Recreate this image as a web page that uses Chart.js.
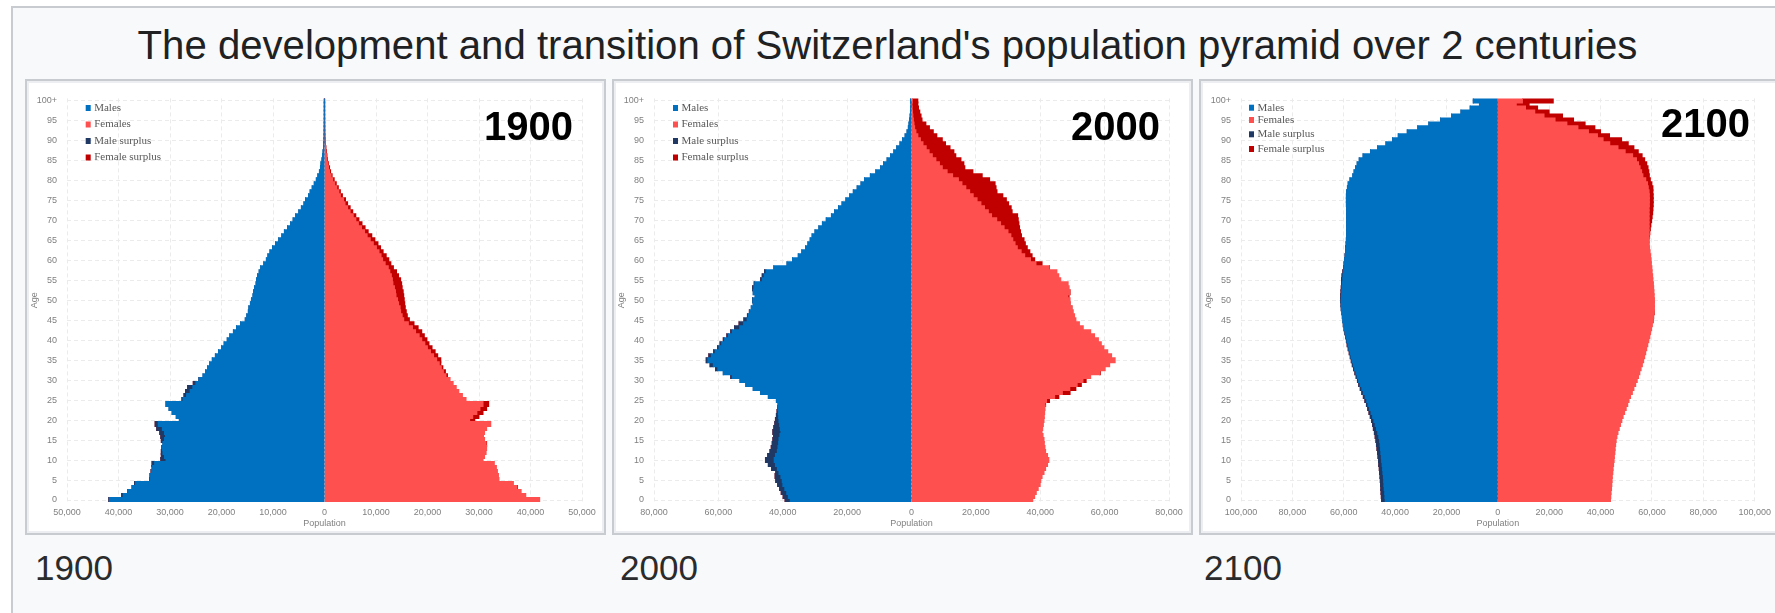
<!DOCTYPE html>
<html><head><meta charset="utf-8">
<script src="https://cdn.jsdelivr.net/npm/chart.js@4.4.1/dist/chart.umd.min.js"></script>
<style>
html,body{margin:0;padding:0;background:#fff;width:1775px;height:613px;overflow:hidden;font-family:'Liberation Sans',Arial,sans-serif;}
#outer{position:absolute;left:11px;top:6px;width:1800px;height:700px;border-left:2px solid #c8ccd1;border-top:2px solid #c8ccd1;background:#f8f9fa;}
#title{position:absolute;left:0;width:1775px;text-align:center;color:#202122;white-space:nowrap;line-height:1;font-family:'Liberation Sans',Arial,sans-serif;}
.panel{position:absolute;top:79px;width:581px;height:456px;box-sizing:border-box;border:2px solid #c8ccd1;background:#eceef1;}
.panel canvas{position:absolute;left:2px;top:2px;background:#fff;filter:blur(0.5px);}
.cap{position:absolute;font-size:35px;line-height:1;color:#2a2b2c;top:550px;}
</style></head>
<body>
<div id="outer"></div>
<div id="title"></div>
<div class="panel" style="left:25px"><canvas id="c1900" width="573" height="448"></canvas></div>
<div class="panel" style="left:612px"><canvas id="c2000" width="573" height="448"></canvas></div>
<div class="panel" style="left:1199px"><canvas id="c2100" width="573" height="448"></canvas></div>
<div class="cap" style="left:35px">1900</div>
<div class="cap" style="left:620px">2000</div>
<div class="cap" style="left:1204px">2100</div>
<script>
const TITLE = "The development and transition of Switzerland's population pyramid over 2 centuries";
const seriesNames = ['Males', 'Females', 'Male surplus', 'Female surplus'];
const yTickLabels = ['0','5','10','15','20','25','30','35','40','45','50','55','60','65','70','75','80','85','90','95','100+'];
const ageLabels = [];
for (let a = 0; a <= 100; a++) ageLabels.push(a === 100 ? '100+' : String(a));

// Population by single year of age (index 0 = age 0 ... index 100 = 100+)
const males1900 = [
 41900,39400,38200,37400,36900,34000,33900,33700,33500,33500,
 31800,31700,31700,31600,31400,31700,31800,32000,32600,32900,
 28200,28800,29600,30200,30800,27700,27300,27000,26600,25500,
 24400,23600,23100,22700,22300,21800,21200,20600,20000,19500,
 18900,18400,17700,17100,16300,15400,15100,14800,14700,14400,
 14200,13900,13800,13600,13300,13200,13000,12700,12400,11800,
 11300,11000,10600,10100,9500,8900,8300,7800,7200,6600,
 6100,5600,5000,4500,4000,3700,3100,2800,2400,2000,
 1600,1300,1000,800,700,500,400,300,200,150,
 100,80,60,50,40,30,20,15,10,8,
 5];
const females1900 = [
 41800,39100,38200,37500,36700,33900,33800,33600,33400,33000,
 30800,31100,31400,31500,31500,31100,30900,31100,31500,32300,
 29200,30000,30800,31500,31900,27500,26800,26100,25600,25000,
 24400,23900,23500,23000,22600,22600,22000,21500,20900,20300,
 19900,19400,18900,18200,17400,16500,16100,15900,15700,15600,
 15500,15400,15300,15100,15000,14800,14400,14000,13400,12900,
 12500,12000,11400,10900,10400,9800,9200,8500,7900,7300,
 6700,6100,5500,5000,4500,4100,3500,3100,2700,2300,
 1900,1500,1200,1000,800,600,500,400,300,200,
 150,110,80,60,50,40,30,20,15,10,
 8];
const males2000 = [
 39300,39900,40500,41000,41600,42200,42400,42200,43500,44500,
 45400,44700,44000,43600,43300,43100,42900,43100,42800,42500,
 42300,42000,41800,41600,41500,42000,44500,46900,49200,51500,
 53300,56200,58500,60900,62600,63800,63000,61500,60300,59500,
 58500,57400,56200,55000,53600,52100,51000,50400,49800,49200,
 49400,48600,49200,49400,48900,46900,46400,45700,42800,38700,
 37000,35200,34100,32900,32200,31500,30900,30000,28800,27700,
 26500,24900,23900,22700,21600,20400,19200,18100,16900,15700,
 14600,12800,11100,9600,8700,7600,6500,5500,4600,3600,
 2800,2000,1400,1000,800,600,450,350,250,180,
 300];
const females2000 = [
 37700,38300,38800,39400,40000,40200,40600,41200,41700,42300,
 42700,42300,41700,41500,41300,41200,40900,40600,40800,41000,
 41200,41300,41400,41500,41700,42900,45800,49300,51100,52800,
 54300,55700,58700,60200,61600,63300,62200,61000,59800,59000,
 58100,56900,55700,53400,52200,51100,50700,50300,49900,49300,
 49300,49000,49300,49000,48700,46400,45800,45200,42900,40600,
 38300,37500,36800,36000,35400,35000,34200,33900,33600,33400,
 33200,33000,31300,31000,30200,29500,28400,26600,26300,26000,
 24300,22000,19100,16600,16300,15400,13800,13200,12000,10600,
 9600,7900,6800,5600,4500,3300,3000,2600,2200,2000,
 2000];
const males2100 = [
 45300,45400,45500,45600,45700,45800,45900,46100,46200,46400,
 46500,46700,46900,47100,47300,47500,47800,48100,48500,48800,
 49200,49700,50200,50700,51200,51800,52400,53000,53600,54200,
 54700,55200,55700,56200,56700,57100,57500,57900,58300,58700,
 59000,59300,59600,59900,60200,60400,60600,60800,61000,61100,
 61200,61200,61100,61000,60900,60900,60700,60400,60100,59900,
 59700,59500,59300,59200,59100,59000,58900,58900,58900,58900,
 58900,58900,58900,58900,59000,59000,59000,58900,58600,58300,
 57600,56500,56000,55400,54800,54000,52500,49600,46800,43600,
 41000,38800,35300,31200,26900,22300,18000,14400,10800,7200,
 9600];
const females2100 = [
 43900,44000,44100,44300,44400,44500,44600,44800,44900,45100,
 45300,45400,45600,45700,45900,46100,46400,46800,47300,47800,
 48300,48800,49400,50000,50600,51100,51700,52400,53000,53700,
 54300,54800,55300,55800,56300,56800,57200,57600,58000,58400,
 58800,59200,59500,59900,60200,60500,60700,60900,61000,61000,
 61000,60900,60800,60700,60600,60400,60300,60100,60000,59800,
 59700,59500,59300,59100,59000,59000,59100,59200,59400,59600,
 59900,60100,60300,60400,60500,60500,60500,60400,60400,60000,
 59400,59000,58800,58500,58000,57200,56200,54700,53000,50800,
 48200,43500,40000,37800,34000,29500,25200,20000,15500,12200,
 21600];

const COLORS = { male: '#0070c0', female: '#ff5050', maleS: '#1f3864', femaleS: '#c00000' };
const TICK_COLOR = '#808080';
const GRID_COLOR = '#ebebeb';

// title fitted to the reference width
(function(){
  const t = document.getElementById('title');
  t.textContent = TITLE;
  const m = document.createElement('canvas').getContext('2d');
  m.font = '100px "Liberation Sans"';
  const w = m.measureText(TITLE).width;
  const fs = 100 * 1500 / w;
  t.style.fontSize = fs + 'px';
  t.style.top = (60 - 0.8465 * fs) + 'px';
})();

const overlayPlugin = {
  id: 'overlay',
  afterDraw(chart, args, o) {
    const ctx = chart.ctx;
    ctx.save();
    ctx.font = '11px "Liberation Serif", "Times New Roman", serif';
    ctx.textBaseline = 'middle';
    ctx.textAlign = 'left';
    chart.data.datasets.forEach((ds, i) => {
      const y = o.rows[i];
      ctx.fillStyle = ds.backgroundColor;
      ctx.fillRect(o.lx, y - 3, 5, 6);
      ctx.fillStyle = '#595959';
      ctx.fillText(ds.label, o.lx + 8.5, y);
    });
    ctx.font = 'bold 40px "Liberation Sans", Arial, sans-serif';
    ctx.textAlign = 'right';
    ctx.textBaseline = 'alphabetic';
    ctx.fillStyle = '#000';
    ctx.fillText(o.year, o.yr, o.yb);
    ctx.restore();
  }
};

function fmt(v) { return Math.abs(v).toLocaleString('en-US'); }

function makeChart(id, males, females, xMax, xStep, overlay) {
  const base = males.map((m, i) => Math.min(m, females[i]));
  const data = {
    labels: ageLabels,
    datasets: [
      { label: seriesNames[0], data: base.map(v => -v), backgroundColor: COLORS.male },
      { label: seriesNames[1], data: base.slice(), backgroundColor: COLORS.female },
      { label: seriesNames[2], data: males.map((m, i) => -(m - base[i])), backgroundColor: COLORS.maleS },
      { label: seriesNames[3], data: females.map((f, i) => f - base[i]), backgroundColor: COLORS.femaleS }
    ]
  };
  const tickFont = { family: '"Liberation Sans", Arial, sans-serif', size: 9 };
  return new Chart(document.getElementById(id), {
    type: 'bar',
    data,
    plugins: [overlayPlugin],
    options: {
      indexAxis: 'y',
      responsive: false,
      animation: false,
      devicePixelRatio: 1,
      layout: { padding: { left: 0, right: 20, top: 13, bottom: 0 } },
      datasets: { bar: { barPercentage: 1.3, categoryPercentage: 1, borderWidth: 0, inflateAmount: 0.4 } },
      plugins: { legend: { display: false }, tooltip: { enabled: false }, overlay },
      scales: {
        x: {
          stacked: true, min: -xMax, max: xMax,
          ticks: { stepSize: xStep, autoSkip: false, maxRotation: 0, font: tickFont, color: TICK_COLOR, padding: 5,
                   callback: v => fmt(v) },
          grid: { color: GRID_COLOR, drawTicks: false },
          border: { display: false, dash: [4, 3] },
          title: { display: true, text: 'Population', font: tickFont, color: TICK_COLOR, padding: { top: 0, bottom: 2 } },
          afterFit: s => { s.height = 29; }
        },
        y: {
          stacked: true, reverse: true,
          ticks: { autoSkip: false, font: tickFont, color: TICK_COLOR, padding: 10,
                   callback: (v, i) => (i % 5 === 0 ? yTickLabels[i / 5] : '') },
          grid: { offset: false, drawTicks: false, color: c => (c.index % 5 === 0 ? GRID_COLOR : 'rgba(0,0,0,0)') },
          border: { display: false, dash: [4, 3] },
          title: { display: true, text: 'Age', font: tickFont, color: TICK_COLOR, padding: { top: 0, bottom: 0 } },
          afterFit: s => { s.width = 38; }
        }
      }
    }
  });
}

makeChart('c1900', males1900, females1900, 50000, 10000,
  { lx: 56.7, rows: [25, 41.5, 58, 74.5], year: '1900', yr: 544, yb: 57 });
makeChart('c2000', males2000, females2000, 80000, 20000,
  { lx: 57, rows: [25, 41.5, 58, 74.5], year: '2000', yr: 544, yb: 57 });
makeChart('c2100', males2100, females2100, 100000, 20000,
  { lx: 46, rows: [24.7, 37, 51.3, 66], year: '2100', yr: 547, yb: 54 });
</script>
</body></html>
